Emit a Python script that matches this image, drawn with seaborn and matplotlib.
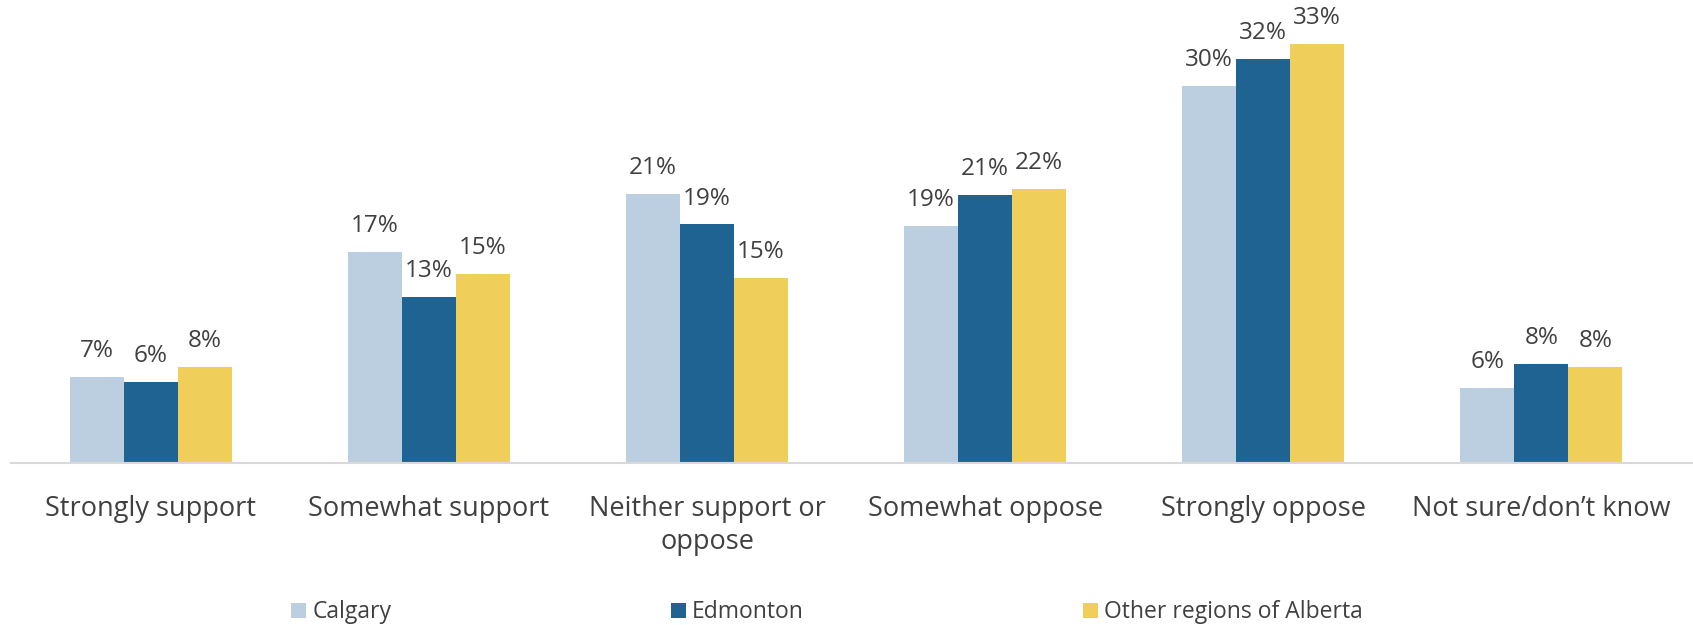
import matplotlib
matplotlib.use("Agg")
import matplotlib.pyplot as plt
import seaborn as sns
import pandas as pd
from matplotlib.patches import Patch

categories = ["Strongly support", "Somewhat support", "Neither support or\noppose",
              "Somewhat oppose", "Strongly oppose", "Not sure/don\u2019t know"]
series = ["Calgary", "Edmonton", "Other regions of Alberta"]
calgary = [6.8, 16.6, 21.2, 18.7, 29.7, 5.9]
edmonton = [6.4, 13.1, 18.8, 21.1, 31.8, 7.8]
other = [7.6, 14.9, 14.6, 21.6, 33.0, 7.6]
colors = ["#BBCFE0", "#1F6393", "#F0CE5A"]

rows = []
for s, vals in zip(series, [calgary, edmonton, other]):
    for c, v in zip(categories, vals):
        rows.append({"Category": c, "Region": s, "Value": v})
df = pd.DataFrame(rows)

sns.set_theme(style="white")
plt.rcParams["font.family"] = ["Open Sans", "DejaVu Sans"]

fig = plt.figure(figsize=(16.93, 6.25), dpi=100)
ax = fig.add_axes([0.0064, 0.259, 0.9936, 0.711])
sns.barplot(data=df, x="Category", y="Value", hue="Region", order=categories,
            hue_order=series, palette=colors, width=0.582, ax=ax, saturation=1,
            linewidth=0, legend=False)
for cont in ax.containers:
    ax.bar_label(cont, labels=[f"{round(b.get_height()):d}%" for b in cont],
                 padding=10, fontsize=17.5, color="#404040")
ax.set_ylim(0, 35)
ax.set_xlim(-0.503, 5.545)
ax.set_xlabel("")
ax.set_ylabel("")
ax.set_yticks([])
for side in ["top", "right", "left"]:
    ax.spines[side].set_visible(False)
ax.spines["bottom"].set_color("#D9D9D9")
ax.spines["bottom"].set_linewidth(1.5)
ax.tick_params(axis="x", length=0, pad=23, labelsize=19.5, labelcolor="#404040")
for t in ax.get_xticklabels():
    t.set_linespacing(1.25)

handles = [Patch(facecolor=c, edgecolor="none") for c in colors]
fig.legend(handles, series, loc="center", bbox_to_anchor=(0.4885, 0.02),
           ncol=3, frameon=False, fontsize=16.5, labelcolor="#404040",
           columnspacing=12.2, handlelength=0.65, handleheight=0.65, handletextpad=0.26)

fig.savefig("out.png", dpi=100)
